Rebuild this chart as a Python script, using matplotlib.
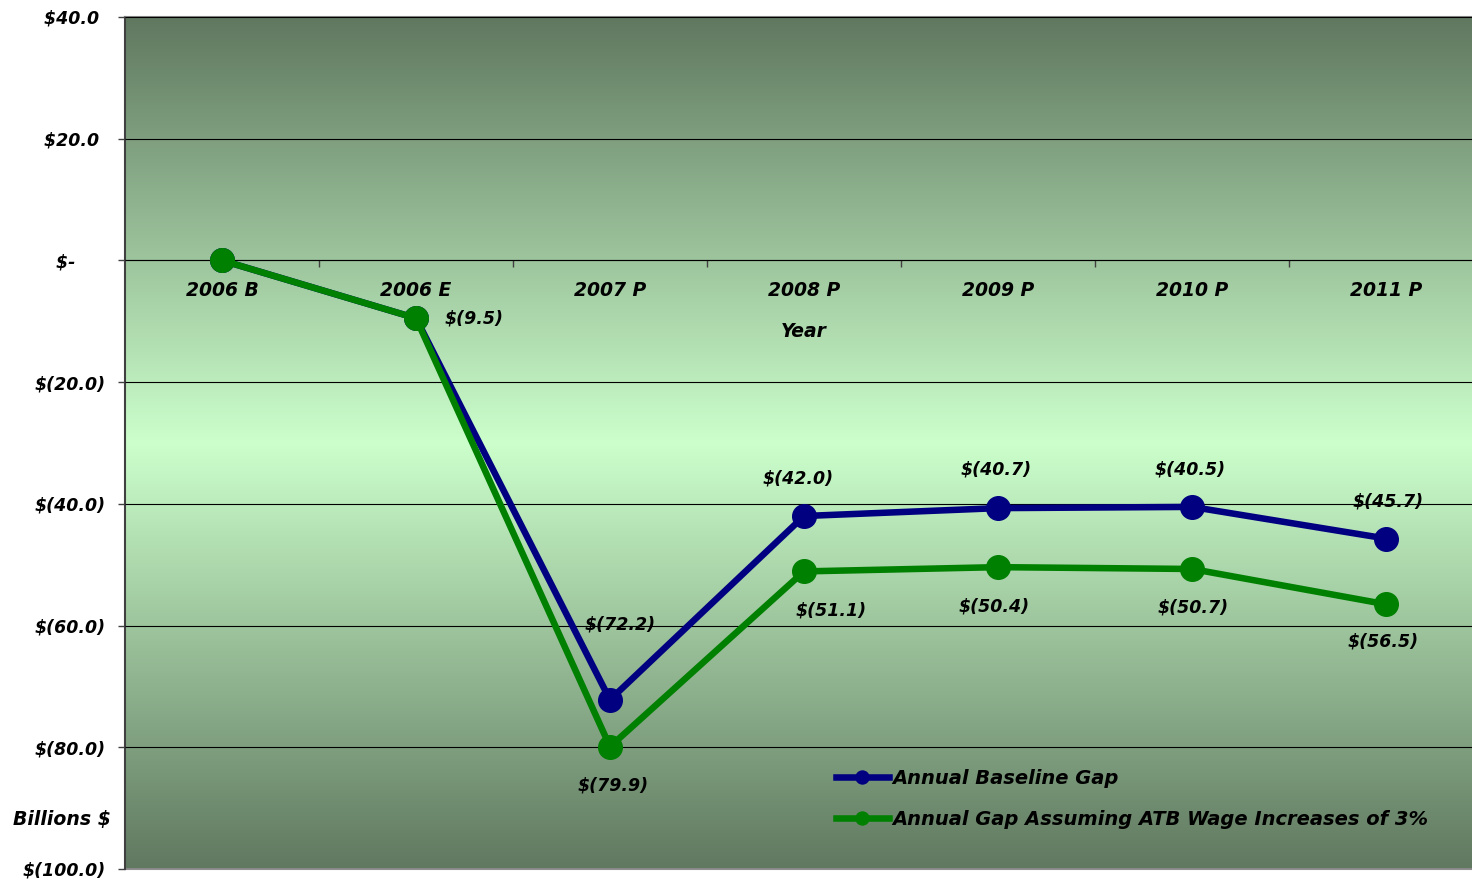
import matplotlib
matplotlib.use("Agg")
import matplotlib.pyplot as plt
from matplotlib.ticker import FixedLocator
import numpy as np

plt.rcParams["text.parse_math"] = False
plt.rcParams["font.family"] = "DejaVu Sans"

# Chart data
years = ["2006 B", "2006 E", "2007 P", "2008 P", "2009 P", "2010 P", "2011 P"]
baseline_gap = [0.0, -9.5, -72.2, -42.0, -40.7, -40.5, -45.7]
atb_gap = [0.0, -9.5, -79.9, -51.1, -50.4, -50.7, -56.5]
y_ticks = [40, 20, 0, -20, -40, -60, -80, -100]
y_tick_labels = ["$40.0 ", "$20.0 ", "$-     ", "$(20.0)", "$(40.0)",
                 "$(60.0)", "$(80.0)", "$(100.0)"]

# which points get a data label, and where (offset in pixels)
baseline_label_offsets = {2: (10, 75), 3: (-6, 38), 4: (-2, 39), 5: (-2, 37), 6: (2, 37)}
atb_label_offsets = {1: (58, 0), 2: (3, -39), 3: (27, -39), 4: (-4, -39),
                     5: (1, -39), 6: (-3, -37)}


def bi(size):
    return dict(fontsize=size, fontweight="bold", fontstyle="italic")


fig = plt.figure(figsize=(14.72, 8.81), dpi=100)
ax = fig.add_axes([125 / 1472, 12 / 881, 1358 / 1472, 852 / 881])

# background gradient: dark at top and bottom, light green in the middle
dark = np.array([0.376, 0.471, 0.376])
light = np.array([0.80, 1.0, 0.80])
t = np.abs(np.linspace(-1, 1, 400))[:, None]
grad = light + (dark - light) * t
ax.imshow(grad[:, None, :].repeat(2, axis=1), extent=[0, 1, 0, 1],
          transform=ax.transAxes, aspect="auto", zorder=0, interpolation="bilinear")

x = np.arange(len(years))
ax.plot(x, baseline_gap, color="#000080", lw=4.7, marker="o", ms=17,
        label="Annual Baseline Gap", zorder=3)
ax.plot(x, atb_gap, color="#008000", lw=4.7, marker="o", ms=17,
        label="Annual Gap Assuming ATB Wage Increases of 3%", zorder=4)

for i, (dx, dy) in baseline_label_offsets.items():
    v = baseline_gap[i]
    ax.annotate(f"$({abs(v):.1f})", (x[i], v), xytext=(dx, dy),
                textcoords="offset pixels", ha="center", va="center", zorder=5, **bi(12.5))
for i, (dx, dy) in atb_label_offsets.items():
    v = atb_gap[i]
    ax.annotate(f"$({abs(v):.1f})", (x[i], v), xytext=(dx, dy),
                textcoords="offset pixels", ha="center", va="center", zorder=5, **bi(12.5))

ax.set_xlim(-0.5, len(years) - 0.5)
ax.set_ylim(-100, 40)

# y axis
ax.set_yticks(y_ticks)
ax.set_yticklabels(y_tick_labels, **bi(12.5))
ax.tick_params(axis="y", direction="out", length=5, width=1, color="#404040", pad=9)
ax.yaxis.grid(True, color="black", lw=0.8)
ax.set_axisbelow(False)
for gl in ax.get_ygridlines():
    gl.set_zorder(1)

# x axis crossing at zero
ax.spines["bottom"].set_position(("data", 0))
ax.spines["bottom"].set_color("#202020")
ax.spines["bottom"].set_linewidth(0.8)
ax.spines["left"].set_color("#404040")
ax.spines["left"].set_linewidth(1.5)
ax.spines["top"].set_color("#808080")
ax.spines["top"].set_linewidth(1.5)
ax.spines["right"].set_visible(False)
ax.axhline(-100, color="#909090", lw=1.5, clip_on=False, zorder=2)

ax.set_xticks(x)
ax.set_xticklabels(years, **bi(13.5))
ax.xaxis.set_minor_locator(FixedLocator(x[:-1] + 0.5))
ax.tick_params(axis="x", which="major", length=0, pad=14.5)
ax.tick_params(axis="x", which="minor", direction="out", length=5, width=1, color="#404040")
ax.set_xlabel("Year", labelpad=16, **bi(13.5))

fig.text(62 / 1472, 1 - 819 / 881, "Billions $", ha="center", va="center", **bi(13.6))

leg = ax.legend(loc="upper left", bbox_to_anchor=(836 / 1472, 1 - 769 / 881),
                bbox_transform=fig.transFigure, frameon=False, borderpad=0,
                borderaxespad=0, handlelength=2.7, handletextpad=0.2,
                labelspacing=1.12, markerscale=0.55,
                prop=dict(size=14, weight="bold", style="italic"))

fig.savefig("out.png", dpi=100)
